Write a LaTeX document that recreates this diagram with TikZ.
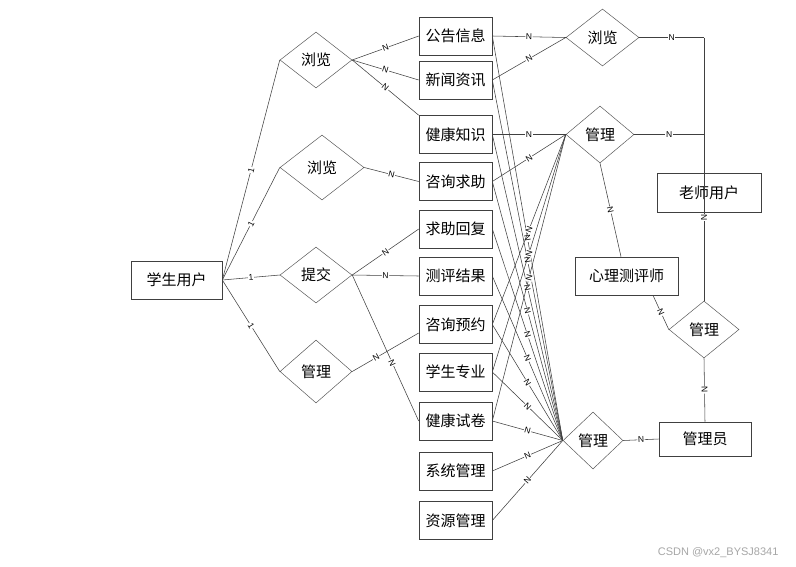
\documentclass[tikz,border=0pt]{standalone}
\usepackage{fontspec}
\setmainfont{Liberation Sans}
\newfontfamily\cjk{Noto Sans CJK SC}
\usetikzlibrary{shapes.geometric,calc}
\begin{document}
\begin{tikzpicture}[x=1pt,y=-1pt,
  ent/.style={draw=black!75, line width=0.6pt, minimum width=73pt, minimum height=38pt, inner sep=0pt, font=\cjk\fontsize{15}{15}\selectfont},
  rel/.style={draw=black!65, line width=0.5pt, diamond, inner sep=0pt, font=\cjk\fontsize{15}{15}\selectfont},
  ln/.style={draw=black!75, line width=0.55pt},
  lab/.style={font=\fontsize{8.5}{8.5}\selectfont, fill=white, inner sep=0.6pt, sloped}]
\useasboundingbox (0,0) rectangle (796,566);
% student side
\node[ent, minimum width=91pt] (stu) at (176.5,280) {学生用户};
\node[rel, minimum width=72pt, minimum height=56pt] (d1) at (316,60) {浏览};
\node[rel, minimum width=84pt, minimum height=65pt] (d2) at (322,167.5) {浏览};
\node[rel, minimum width=72pt, minimum height=56pt] (d3) at (316,275) {提交};
\node[rel, minimum width=72pt, minimum height=63pt] (d4) at (316,371.5) {管理};
% entity column
\node[ent] (e1) at (455.5,36) {公告信息};
\node[ent] (e2) at (455.5,80) {新闻资讯};
\node[ent] (e3) at (455.5,134.5) {健康知识};
\node[ent] (e4) at (455.5,181.5) {咨询求助};
\node[ent] (e5) at (455.5,229) {求助回复};
\node[ent] (e6) at (455.5,276) {测评结果};
\node[ent] (e7) at (455.5,324.5) {咨询预约};
\node[ent] (e8) at (455.5,372) {学生专业};
\node[ent] (e9) at (455.5,421) {健康试卷};
\node[ent] (e10) at (455.5,471) {系统管理};
\node[ent] (e11) at (455.5,520.5) {资源管理};
% right side
\node[rel, minimum width=73pt, minimum height=57pt] (d5) at (602.5,37.5) {浏览};
\node[rel, minimum width=68pt, minimum height=57pt] (d6) at (600,134.5) {管理};
\node[rel, minimum width=60pt, minimum height=57pt] (d7) at (593,440.5) {管理};
\node[rel, minimum width=70pt, minimum height=57pt] (d8) at (704,329.5) {管理};
\node[ent, minimum width=104pt, minimum height=39pt] (tea) at (709,192.5) {老师用户};
\node[ent, minimum width=103pt] (psy) at (626.5,276) {心理测评师};
\node[ent, minimum width=92pt, minimum height=34pt] (adm) at (705,439) {管理员};
\coordinate (c1) at (704,37.5);
\coordinate (c2) at (704,134.5);
\coordinate (p1) at ($(psy.south)+(26.5,0)$);
\coordinate (p2) at ($(psy.north)+(-5.5,0)$);
\coordinate (a7) at ($(e7.west)+(0,8.5)$);
% student connectors
\draw[ln] (stu.east) -- node[lab]{1} (d1.west);
\draw[ln] (stu.east) -- node[lab]{1} (d2.west);
\draw[ln] (stu.east) -- node[lab]{1} (d3.west);
\draw[ln] (stu.east) -- node[lab]{1} (d4.west);
\draw[ln] (d1.east) -- node[lab]{N} (e1.west);
\draw[ln] (d1.east) -- node[lab]{N} (e2.west);
\draw[ln] (d1.east) -- node[lab]{N} (e3.north west);
\draw[ln] (d2.east) -- node[lab]{N} (e4.west);
\draw[ln] (d3.east) -- node[lab]{N} (e5.west);
\draw[ln] (d3.east) -- node[lab]{N} (e6.west);
\draw[ln] (d3.east) -- node[lab, pos=0.6]{N} (e9.west);
\draw[ln] (d4.east) -- node[lab, pos=0.36]{N} (a7);
% admin management lines
\foreach \b in {e1,e2,e3,e4,e5,e6,e7,e8,e9,e10,e11}
  \draw[ln] (\b.east) -- node[lab]{N} (d7.west);
% teacher browse / manage
\draw[ln] (e1.east) -- node[lab]{N} (d5.west);
\draw[ln] (e2.east) -- node[lab]{N} (d5.west);
\draw[ln] (e3.east) -- node[lab]{N} (d6.west);
\draw[ln] (e4.east) -- node[lab]{N} (d6.west);
\draw[ln] (e7.east) -- node[lab]{N} (d6.west);
\draw[ln] (e8.east) -- node[lab]{N} (d6.west);
\draw[ln] (e9.east) -- node[lab]{N} (d6.west);
% teacher user
\draw[ln] (d5.east) -- node[lab]{N} (c1);
\draw[ln] (d6.east) -- node[lab]{N} (c2);
\draw[ln] (c1) -- (c2);
\draw[ln] (c2) -- node[lab]{N} (d8.north);
\draw[ln] (d6.south) -- node[lab]{N} (p2);
\draw[ln] (p1) -- node[lab]{N} (d8.west);
\draw[ln] (d8.south) -- node[lab]{N} (adm.north);
\draw[ln] (d7.east) -- node[lab]{N} (adm.west);
% watermark
\node[font=\fontsize{11}{11}\selectfont, text=black!35, anchor=east] (wm) at (782,553) {CSDN @vx2\_BYSJ8341};
\end{tikzpicture}
\end{document}
